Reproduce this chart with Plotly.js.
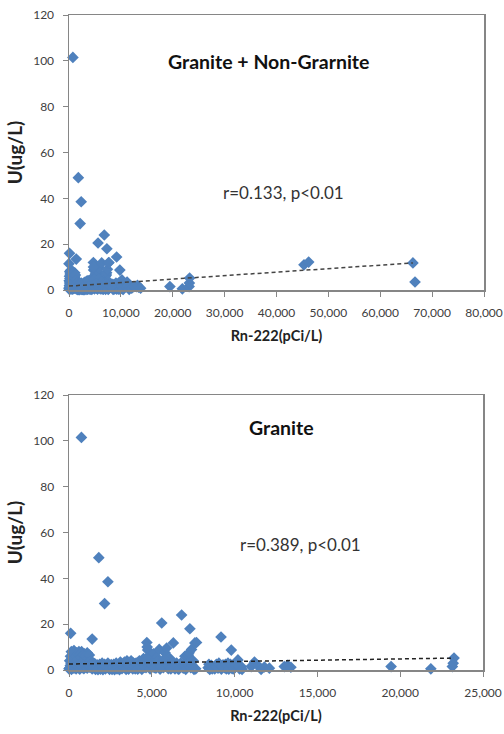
<!DOCTYPE html>
<html>
<head>
<meta charset="utf-8">
<script src="https://cdn.plot.ly/plotly-3.0.1.min.js"></script>
<style>html,body{margin:0;padding:0;background:#fff}#c{width:504px;height:734px}</style>
</head>
<body>
<div id="c"></div>
<script>
// Granite samples: Rn-222 (pCi/L) and U (ug/L)
var graniteRn = [
  750,100,1400,1800,2150,2350,
  0,50,80,120,150,180,200,230,260,300,320,350,380,400,430,460,500,520,560,600,630,650,700,720,760,800,830,870,900,930,960,1000,1030,1060,1100,1150,1200,1250,1300,1100,600,300,
  40,90,140,210,270,340,410,470,540,580,680,740,790,850,920,980,1050,1120,1180,1230,1280,
  1400,1500,1600,1700,1800,1900,2000,2100,2200,2300,2400,2500,2600,2700,2800,2900,3000,3100,3200,3300,3400,3500,3600,3700,3800,3900,4000,4100,4200,4300,4400,4500,4600,4650,
  1350,1450,1550,1650,1750,1850,1950,2050,2150,2250,2350,2450,2550,2650,2750,2850,2950,3050,3150,3250,3350,3450,3550,3650,3750,3850,3950,4050,4150,4250,4350,4450,4550,
  4700,4750,4800,4850,4900,5000,5050,5100,5200,5250,5300,5400,5450,5500,5600,5650,5700,5800,5850,5900,6000,6050,6100,6200,6300,6350,6400,6500,6550,6600,6700,6800,6900,7000,7100,7200,7250,7300,7400,7500,7600,7700,7650,
  4720,4780,4950,5150,5350,5550,5750,5950,6150,6250,6450,6650,6750,6950,7050,7150,7350,7450,7550,
  8400,8500,8600,8700,8800,8900,9000,9100,9180,9200,9300,9400,9500,9600,9700,9800,9850,9900,10000,10100,10200,10300,10400,
  8450,8650,8850,9050,9250,9450,9650,9750,9950,10050,10250,10450,
  11000,11200,11400,11600,11800,12100,13000,13200,13400,
  19450,21850,23150,23200,23250
];
var graniteU = [
  101.5,16,13.5,49,29,38.5,
  0.5,1,2,3,0.3,5,1.5,7,2.5,0.8,4,6,1.2,3.5,0.5,7.5,2,5.5,1,3,6.5,0.4,4.5,2,8,1,5,3,0.6,7,2.5,4,1.5,6,0.8,3,5,1.2,2,7.5,8,8.5,
  4,6,8,3.8,5,2.8,5.8,4,7,2.8,7,5.5,3.5,6.5,4.5,6,3.5,5,2.5,6.5,4,
  0.5,1.5,0.3,2.2,1,0.4,3,1.2,0.5,2,0.8,1.5,0.3,2.5,1,0.5,1.8,3.5,0.6,2,1,4,0.4,2.5,1.2,3,0.5,1.8,0.8,2.2,0.3,5,3,1,
  2.5,1,2.8,1,0.2,2.5,1.8,0.2,2.5,1.5,3,0.3,2.4,1,0.2,3,1.2,0.2,2.2,1.5,3.5,0.3,2.5,1.5,4,0.5,1.5,3,0.4,4,1.2,2.8,1.2,
  12,8.7,6,2,0.5,4,1.5,7,3,0.8,5.5,2,9,0.4,20.5,3.5,1,7.5,2.5,9.6,0.6,4,5,1.5,11.8,2.8,0.5,3,1.2,0.4,2,24,0.8,6,1.5,6.5,7.5,18,9,4,11.8,12,0.5,
  10,4.5,2.5,1,3.8,1.5,4.8,2,0.5,3.5,1.8,0.5,3,2.2,0.3,2.5,1,2,0.3,
  1,0.3,2,1.2,0.5,2.5,0.8,1.8,14.4,0.4,2.2,1,0.5,3,1.5,8.7,0.6,2,1,3,4.4,0.5,1.5,
  2.5,0.5,1.5,3,1.5,2.5,0.4,2.5,0.5,2,1.5,0.3,
  1.5,3.5,2,0.3,1.3,0.8,1.5,2,1.2,
  1.5,0.5,1.5,3,5.2
];
// Non-granite samples (shown only in the combined panel)
var nonGraniteRn = [0,250,2600,5200,8100,12500,13800,45300,46200,66300,66700];
var nonGraniteU  = [11.5,2,1,3,1.5,1.5,0.8,11,12.2,11.8,3.5];

// Trend lines
var trendAllRn = [0,66300];
var trendAllU  = [1.7,11.8];
var trendGrRn  = [0,23250];
var trendGrU   = [2.6,5.2];

var allRn = graniteRn.concat(nonGraniteRn);
var allU  = graniteU.concat(nonGraniteU);

var blue = '#4F81BD';
var mk = {symbol:'diamond', size:9, color:blue};
var traces = [
  {x:allRn, y:allU, type:'scatter', mode:'markers', marker:mk, xaxis:'x', yaxis:'y', cliponaxis:false},
  {x:trendAllRn, y:trendAllU, type:'scatter', mode:'lines', line:{color:'#444', width:1.5, dash:'4px,3px'}, xaxis:'x', yaxis:'y'},
  {x:graniteRn, y:graniteU, type:'scatter', mode:'markers', marker:mk, xaxis:'x2', yaxis:'y2', cliponaxis:false},
  {x:trendGrRn, y:trendGrU, type:'scatter', mode:'lines', line:{color:'#222', width:1.5, dash:'4px,3px'}, xaxis:'x2', yaxis:'y2'}
];

var fam = 'Lato, "Liberation Sans", sans-serif';
var tickFont = {family:fam, size:12, color:'#404040'};
function xa(range, dtick, dom, anchor){
  return {domain:dom, anchor:anchor, range:range, dtick:dtick, tick0:0, tickformat:',d',
    showgrid:false, zeroline:false, showline:true, linecolor:'#868686', linewidth:1.5, mirror:true,
    ticks:'outside', ticklen:5, tickcolor:'#868686', tickwidth:1, tickfont:tickFont, ticklabelstandoff:6,
    title:{text:'<b>Rn-222(pCi/L)</b>', font:{family:fam, size:14.5, color:'#222'}, standoff:12}, fixedrange:true};
}
function ya(dom, anchor){
  return {domain:dom, anchor:anchor, range:[0,120], dtick:20, tick0:0,
    showgrid:false, zeroline:false, showline:true, linecolor:'#868686', linewidth:1.5, mirror:true,
    ticks:'outside', ticklen:5, tickcolor:'#868686', tickwidth:1, tickfont:tickFont, ticklabelstandoff:6,
    title:{text:'<b>U(ug/L)</b>', font:{family:fam, size:19, color:'#222'}, standoff:5}, fixedrange:true};
}
var W=504, H=734;
var layout = {
  width:W, height:H, margin:{l:0,r:0,t:0,b:0}, showlegend:false,
  paper_bgcolor:'#fff', plot_bgcolor:'#fff',
  xaxis: xa([0,80000], 10000, [69/W, 484/W], 'y'),
  yaxis: ya([1-290/H, 1-15/H], 'x'),
  xaxis2: xa([0,25000], 5000, [69/W, 483/W], 'y2'),
  yaxis2: ya([1-670/H, 1-395/H], 'x2'),
  annotations:[
    {xref:'paper', yref:'paper', x:268/W, y:1-48/H, text:'<b>Granite + Non-Grarnite</b>', showarrow:false, font:{family:fam, size:19.5, color:'#111'}},
    {xref:'paper', yref:'paper', x:346/W, y:1-180/H, text:'r=0.133, p<0.01', showarrow:false, font:{family:fam, size:17, color:'#333'}},
    {xref:'paper', yref:'paper', x:281/W, y:1-428/H, text:'<b>Granite</b>', showarrow:false, font:{family:fam, size:19.5, color:'#111'}},
    {xref:'paper', yref:'paper', x:363/W, y:1-557/H, text:'r=0.389, p<0.01', showarrow:false, font:{family:fam, size:17, color:'#333'}}
  ]
};
Plotly.newPlot('c', traces, layout, {displayModeBar:false, staticPlot:true});
</script>
</body>
</html>
